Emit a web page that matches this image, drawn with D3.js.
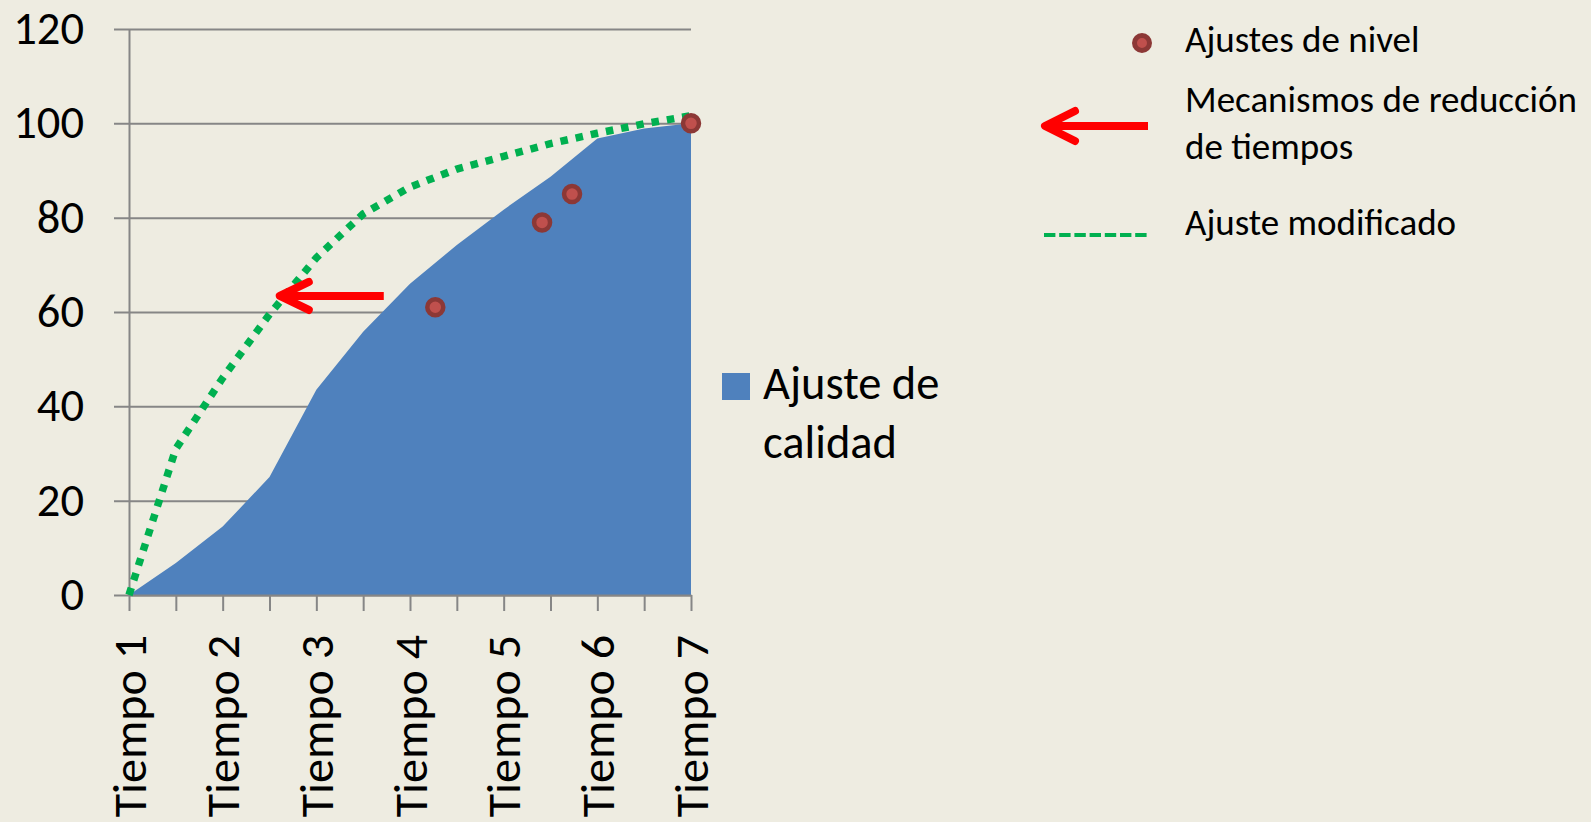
<!DOCTYPE html>
<html>
<head>
<meta charset="utf-8">
<script src="https://cdn.jsdelivr.net/npm/d3@7"></script>
<style>
  html, body { margin: 0; padding: 0; background: #EEECE1; }
  svg { display: block; }
  text { font-family: Calibri, Carlito, Lato, sans-serif; fill: #000; }
</style>
</head>
<body>
<svg id="chart" width="1591" height="822"></svg>
<script>
// Categories and positions along the time axis (half steps between periods)
const tiempos = ["Tiempo 1", "Tiempo 2", "Tiempo 3", "Tiempo 4", "Tiempo 5", "Tiempo 6", "Tiempo 7"];
const tiempoValores = [1, 2, 3, 4, 5, 6, 7];
const pasos = [1, 1.5, 2, 2.5, 3, 3.5, 4, 4.5, 5, 5.5, 6, 6.5, 7];

// Series
const ajusteCalidad   = [0, 6.8, 14.5, 25, 43.5, 55.8, 66, 74.2, 81.7, 88.7, 96.8, 98.9, 100];
const ajusteModificado = [0, 31, 46, 59.5, 71.5, 80.8, 86.5, 90.3, 93, 95.7, 97.9, 99.9, 101.6];
const nivelTiempo = [4.27, 5.41, 5.73, 7];
const nivelValor  = [61, 79, 85, 100];

// Time-reduction arrow (from, to) in data units
const flechaDesde = [3.72, 63.4];
const flechaHasta = [2.61, 63.4];

// Axis ticks
const yTicks = [0, 20, 40, 60, 80, 100, 120];

// Legend labels
const leyendaArea = ["Ajuste de", "calidad"];
const leyendaNivel = "Ajustes de nivel";
const leyendaFlecha = ["Mecanismos de reducción", "de tiempos"];
const leyendaLinea = "Ajuste modificado";

const svg = d3.select("#chart");
const GRID = "#868686";
const AZUL = "#4F81BD";
const VERDE = "#00B050";
const ROJO = "#FF0000";
const FUENTE = "Calibri, Carlito, Lato, sans-serif";

const x = d3.scaleLinear().domain([1, 7]).range([129, 691]);
const y = d3.scaleLinear().domain([0, 120]).range([595, 29]);

// Horizontal gridlines (extend left of the axis as tick marks)
const grid = svg.append("g")
  .attr("transform", "translate(114,0)")
  .call(d3.axisLeft(y).tickValues(yTicks).tickSize(-(691 - 114)).tickFormat(""));
grid.select(".domain").remove();
grid.selectAll("line").attr("stroke", GRID).attr("stroke-width", 2);

// Y tick labels
const yLab = svg.append("g")
  .attr("transform", "translate(84,0)")
  .call(d3.axisLeft(y).tickValues(yTicks).tickSize(0).tickPadding(0));
yLab.select(".domain").remove();
yLab.selectAll("text")
  .attr("dy", null)
  .attr("y", 14.5)
  .style("font-size", "46.5px")
  .style("font-family", FUENTE)
  .attr("fill", "#000");

// Area series
const area = d3.area()
  .x((d, i) => x(pasos[i]))
  .y0(y(0))
  .y1(d => y(d));
svg.append("path")
  .datum(ajusteCalidad)
  .attr("d", area)
  .attr("fill", AZUL);

// Y axis line
const yAxis = svg.append("g")
  .attr("transform", "translate(129,0)")
  .call(d3.axisLeft(y).tickValues([]).tickSizeOuter(0));
yAxis.select(".domain").attr("stroke", GRID).attr("stroke-width", 2);

// X axis line and tick marks
const xAxis = svg.append("g")
  .attr("transform", "translate(0,595)")
  .call(d3.axisBottom(x).tickValues(pasos).tickSize(16).tickSizeOuter(0).tickFormat(""));
xAxis.select(".domain").attr("stroke", GRID).attr("stroke-width", 2);
xAxis.selectAll("line").attr("stroke", GRID).attr("stroke-width", 2);

// X tick labels, rotated
const xLab = svg.append("g")
  .attr("transform", "translate(0,595)")
  .call(d3.axisBottom(x).tickValues(tiempoValores).tickSize(0)
    .tickFormat(v => tiempos[tiempoValores.indexOf(v)]));
xLab.select(".domain").remove();
xLab.selectAll("text")
  .attr("transform", "rotate(-90)")
  .attr("dy", null)
  .attr("x", -40)
  .attr("y", 16)
  .style("text-anchor", "end")
  .style("font-size", "48px")
  .style("font-family", FUENTE)
  .attr("fill", "#000");

// Modified-fit dotted line
const linea = d3.line()
  .x((d, i) => x(pasos[i]))
  .y(d => y(d));
svg.append("path")
  .datum(ajusteModificado)
  .attr("d", linea)
  .attr("fill", "none")
  .attr("stroke", VERDE)
  .attr("stroke-width", 7.5)
  .attr("stroke-dasharray", "7.5 8");

// Arrow helper: flat-ended shaft plus rounded head
function flecha(g, x0, x1, yy, dx, dy, w) {
  g.append("line")
    .attr("x1", x0).attr("y1", yy).attr("x2", x1 + 2).attr("y2", yy)
    .attr("stroke", ROJO).attr("stroke-width", w);
  g.append("path")
    .attr("d", `M${x1 + dx},${yy - dy}L${x1},${yy}L${x1 + dx},${yy + dy}`)
    .attr("fill", "none")
    .attr("stroke", ROJO).attr("stroke-width", w)
    .attr("stroke-linecap", "round").attr("stroke-linejoin", "round");
}
flecha(svg.append("g"), x(flechaDesde[0]), x(flechaHasta[0]), y(flechaHasta[1]), 29, 14, 8);

// Level-adjustment points
svg.append("g").selectAll("circle")
  .data(nivelTiempo)
  .join("circle")
  .attr("cx", d => x(d))
  .attr("cy", (d, i) => y(nivelValor[i]))
  .attr("r", 8)
  .attr("fill", "#C0504D")
  .attr("stroke", "#8C3836")
  .attr("stroke-width", 4.5);

// Legend: area series
svg.append("rect")
  .attr("x", 722).attr("y", 373).attr("width", 28).attr("height", 27)
  .attr("fill", AZUL);
svg.append("g").selectAll("text")
  .data(leyendaArea)
  .join("text")
  .attr("x", 763)
  .attr("y", (d, i) => 399 + i * 59)
  .style("font-size", "46.5px")
  .text(d => d);

// Legend: top-right block
const leg = svg.append("g");
leg.append("circle")
  .attr("cx", 1142).attr("cy", 43).attr("r", 7.5)
  .attr("fill", "#C0504D").attr("stroke", "#8C3836").attr("stroke-width", 5);
leg.append("text")
  .attr("x", 1185).attr("y", 52)
  .style("font-size", "37px")
  .text(leyendaNivel);

flecha(leg, 1148, 1045, 126, 30, 15, 8);
leg.selectAll("text.fl")
  .data(leyendaFlecha)
  .join("text")
  .attr("class", "fl")
  .attr("x", 1185)
  .attr("y", (d, i) => 112 + i * 46.5)
  .style("font-size", "37px")
  .text(d => d);

leg.append("line")
  .attr("x1", 1044).attr("y1", 235).attr("x2", 1150).attr("y2", 235)
  .attr("stroke", VERDE).attr("stroke-width", 4)
  .attr("stroke-dasharray", "11.4 3.8");
leg.append("text")
  .attr("x", 1185).attr("y", 235)
  .style("font-size", "37px")
  .text(leyendaLinea);
</script>
</body>
</html>
